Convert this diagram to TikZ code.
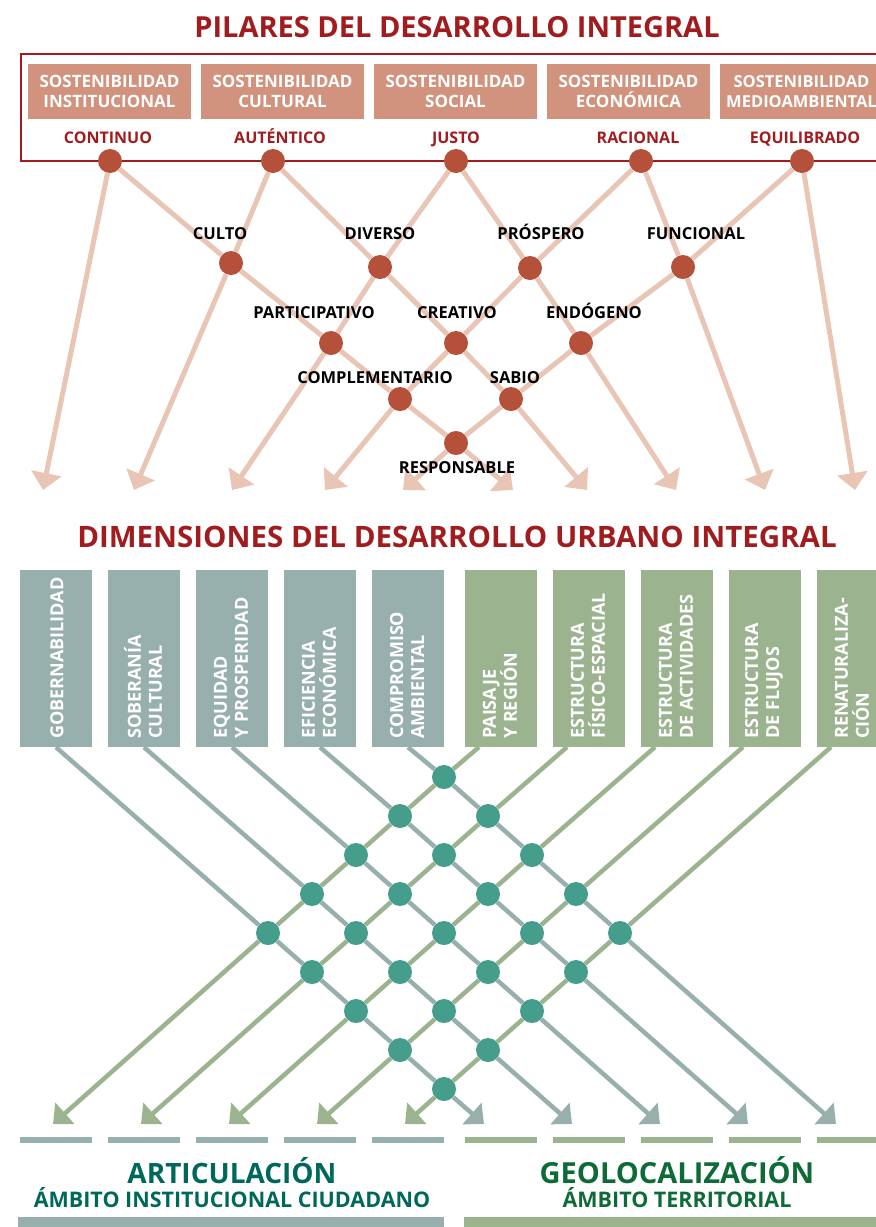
\documentclass[tikz,border=0pt]{standalone}
\usepackage{fontspec}
\setmainfont{Open Sans}
\usepackage{tikz}
\usetikzlibrary{arrows.meta}
\definecolor{pilarred}{HTML}{A01C1E}
\definecolor{salmon}{HTML}{D1937E}
\definecolor{reddot}{HTML}{B5503A}
\definecolor{redline}{HTML}{E8C5B5}
\definecolor{slate}{HTML}{98B0AD}
\definecolor{sage}{HTML}{9CB38F}
\definecolor{tealdot}{HTML}{459E8B}
\definecolor{articol}{HTML}{00685A}
\definecolor{geocol}{HTML}{0E6B38}
\newcommand{\bsize}[2]{\bfseries\fontsize{#1}{#2}\selectfont}
\begin{document}
\begin{tikzpicture}[x=1pt,y=-1pt,
  pillar/.style={fill=salmon, minimum width=163pt, minimum height=55pt, inner sep=0pt, text=white, align=center, font=\bsize{17}{20}},
  virtue/.style={text=pilarred, inner sep=0pt, anchor=base, font=\bsize{16}{18}},
  quality/.style={text=black, inner sep=0pt, anchor=base, font=\bsize{16.5}{18}},
  rdot/.style={circle, fill=reddot, minimum size=24pt, inner sep=0pt},
  tdot/.style={circle, fill=tealdot, minimum size=24pt, inner sep=0pt},
  rlink/.style={draw=redline, line width=5pt, -{Triangle[length=17pt,width=30pt]}},
  slink/.style={draw=slate, line width=4.5pt, -{Triangle[length=16pt,width=28pt]}},
  glink/.style={draw=sage, line width=4.5pt, -{Triangle[length=16pt,width=28pt]}},
  dimbox/.style={minimum width=72pt, minimum height=177pt, inner sep=0pt},
  vlabel/.style={rotate=90, anchor=west, inner sep=0pt, text=white, align=left, font=\bsize{18}{21}},
  footer/.style={inner sep=0pt, anchor=base}]
\useasboundingbox (0,0) rectangle (876,1227);
\node [text=pilarred, font=\bsize{29}{34}] (pilares) at (457,27) {PILARES DEL DESARROLLO INTEGRAL};
\draw [pilarred, line width=2.5pt] (21,54) rectangle (900,161);
\node [pillar] (inst) at (109.5,91.5) {SOSTENIBILIDAD\\INSTITUCIONAL};
\node [pillar] (cult) at (282.5,91.5) {SOSTENIBILIDAD\\CULTURAL};
\node [pillar] (soc) at (455.5,91.5) {SOSTENIBILIDAD\\SOCIAL};
\node [pillar] (econ) at (628.5,91.5) {SOSTENIBILIDAD\\ECONÓMICA};
\node [pillar, font=\bsize{16.5}{20}] (medio) at (801.5,91.5) {SOSTENIBILIDAD\\MEDIOAMBIENTAL};
\node [virtue] (lcont) at (108,143) {CONTINUO};
\node [virtue] (laut) at (280,143) {AUTÉNTICO};
\node [virtue] (ljusto) at (456,143) {JUSTO};
\node [virtue] (lrac) at (638,143) {RACIONAL};
\node [virtue] (lequi) at (805,143) {EQUILIBRADO};
\node [rdot] (cont) at (110,161) {};
\node [rdot] (aut) at (273,161) {};
\node [rdot] (justo) at (456,161) {};
\node [rdot] (rac) at (641,161) {};
\node [rdot] (equi) at (802,161) {};
\node [rdot] (culto) at (231,263) {};
\node [rdot] (div) at (380,267) {};
\node [rdot] (prosp) at (530,268) {};
\node [rdot] (func) at (683,267) {};
\node [rdot] (part) at (331,343) {};
\node [rdot] (crea) at (456,343) {};
\node [rdot] (endo) at (581,343) {};
\node [rdot] (compl) at (400,399) {};
\node [rdot] (sabio) at (511,399) {};
\node [rdot] (resp) at (456,443) {};
\coordinate (t1) at (43,490);
\coordinate (t2) at (134,490);
\coordinate (t3) at (232,490);
\coordinate (t4) at (325,490);
\coordinate (t5) at (403,490);
\coordinate (t6) at (513,490);
\coordinate (t7) at (587,490);
\coordinate (t8) at (676,490);
\coordinate (t9) at (765,490);
\coordinate (t10) at (855,490);
\draw [rlink] (cont) -- (t1);
\draw [rlink] (cont) -- (culto) -- (part) -- (compl) -- (resp) -- (t6);
\draw [rlink] (aut) -- (culto) -- (t2);
\draw [rlink] (aut) -- (div) -- (crea) -- (sabio) -- (t7);
\draw [rlink] (justo) -- (div) -- (part) -- (t3);
\draw [rlink] (justo) -- (prosp) -- (endo) -- (t8);
\draw [rlink] (rac) -- (prosp) -- (crea) -- (compl) -- (t4);
\draw [rlink] (rac) -- (func) -- (t9);
\draw [rlink] (equi) -- (func) -- (endo) -- (sabio) -- (resp) -- (t5);
\draw [rlink] (equi) -- (t10);
\node [quality] (lculto) at (220,239.5) {CULTO};
\node [quality] (ldiv) at (380,239.5) {DIVERSO};
\node [quality] (lprosp) at (541,239.5) {PRÓSPERO};
\node [quality] (lfunc) at (696,239.5) {FUNCIONAL};
\node [quality] (lpart) at (314,318.5) {PARTICIPATIVO};
\node [quality] (lcrea) at (457,318.5) {CREATIVO};
\node [quality] (lendo) at (594,318.5) {ENDÓGENO};
\node [quality] (lcompl) at (375,383) {COMPLEMENTARIO};
\node [quality] (lsabio) at (515,383) {SABIO};
\node [quality] (lresp) at (457,473) {RESPONSABLE};
\node [text=pilarred, font=\bsize{29.5}{34}] (dimensiones) at (457,537) {DIMENSIONES DEL DESARROLLO URBANO INTEGRAL};
\node [dimbox, fill=slate] (gob) at (56,658.5) {};
\node [dimbox, fill=slate] (sob) at (144,658.5) {};
\node [dimbox, fill=slate] (equ) at (232,658.5) {};
\node [dimbox, fill=slate] (efi) at (320,658.5) {};
\node [dimbox, fill=slate] (com) at (408,658.5) {};
\node [dimbox, fill=sage] (pai) at (501,658.5) {};
\node [dimbox, fill=sage] (fis) at (589,658.5) {};
\node [dimbox, fill=sage] (act) at (677,658.5) {};
\node [dimbox, fill=sage] (flu) at (765,658.5) {};
\node [dimbox, fill=sage] (ren) at (853,658.5) {};
\node [vlabel] (lgob) at (57,739) {GOBERNABILIDAD};
\node [vlabel] (lsob) at (143,739) {SOBERANÍA\\CULTURAL};
\node [vlabel] (lequ) at (231,739) {EQUIDAD\\Y PROSPERIDAD};
\node [vlabel] (lefi) at (319,739) {EFICIENCIA\\ECONÓMICA};
\node [vlabel] (lcom) at (407,739) {COMPROMISO\\AMBIENTAL};
\node [vlabel] (lpai) at (500,739) {PAISAJE\\Y REGIÓN};
\node [vlabel] (lfis) at (588,739) {ESTRUCTURA\\FÍSICO-ESPACIAL};
\node [vlabel] (lact) at (676,739) {ESTRUCTURA\\DE ACTIVIDADES};
\node [vlabel] (lflu) at (764,739) {ESTRUCTURA\\DE FLUJOS};
\node [vlabel] (lren) at (852,739) {RENATURALIZA-\\CIÓN};
\coordinate (paitop) at (479,747);
\coordinate (fistop) at (567,747);
\coordinate (acttop) at (655,747);
\coordinate (flutop) at (743,747);
\coordinate (rentop) at (831,747);
\node [tdot] (m00) at (268,933) {};
\node [tdot] (m01) at (312,972) {};
\node [tdot] (m02) at (356,1011) {};
\node [tdot] (m03) at (400,1050) {};
\node [tdot] (m04) at (444,1089) {};
\node [tdot] (m10) at (312,894) {};
\node [tdot] (m11) at (356,933) {};
\node [tdot] (m12) at (400,972) {};
\node [tdot] (m13) at (444,1011) {};
\node [tdot] (m14) at (488,1050) {};
\node [tdot] (m20) at (356,855) {};
\node [tdot] (m21) at (400,894) {};
\node [tdot] (m22) at (444,933) {};
\node [tdot] (m23) at (488,972) {};
\node [tdot] (m24) at (532,1011) {};
\node [tdot] (m30) at (400,816) {};
\node [tdot] (m31) at (444,855) {};
\node [tdot] (m32) at (488,894) {};
\node [tdot] (m33) at (532,933) {};
\node [tdot] (m34) at (576,972) {};
\node [tdot] (m40) at (444,777) {};
\node [tdot] (m41) at (488,816) {};
\node [tdot] (m42) at (532,855) {};
\node [tdot] (m43) at (576,894) {};
\node [tdot] (m44) at (620,933) {};
\coordinate (gobend) at (484,1124);
\coordinate (sobend) at (572,1124);
\coordinate (equend) at (660,1124);
\coordinate (efiend) at (748,1124);
\coordinate (comend) at (836,1124);
\coordinate (paiend) at (53,1124);
\coordinate (fisend) at (141,1124);
\coordinate (actend) at (229,1124);
\coordinate (fluend) at (317,1124);
\coordinate (renend) at (405,1124);
\draw [slink] (gob.south) -- (m00) -- (m01) -- (m02) -- (m03) -- (m04) -- (gobend);
\draw [slink] (sob.south) -- (m10) -- (m11) -- (m12) -- (m13) -- (m14) -- (sobend);
\draw [slink] (equ.south) -- (m20) -- (m21) -- (m22) -- (m23) -- (m24) -- (equend);
\draw [slink] (efi.south) -- (m30) -- (m31) -- (m32) -- (m33) -- (m34) -- (efiend);
\draw [slink] (com.south) -- (m40) -- (m41) -- (m42) -- (m43) -- (m44) -- (comend);
\draw [glink] (paitop) -- (m40) -- (m30) -- (m20) -- (m10) -- (m00) -- (paiend);
\draw [glink] (fistop) -- (m41) -- (m31) -- (m21) -- (m11) -- (m01) -- (fisend);
\draw [glink] (acttop) -- (m42) -- (m32) -- (m22) -- (m12) -- (m02) -- (actend);
\draw [glink] (flutop) -- (m43) -- (m33) -- (m23) -- (m13) -- (m03) -- (fluend);
\draw [glink] (rentop) -- (m44) -- (m34) -- (m24) -- (m14) -- (m04) -- (renend);
\fill [slate] (20,1137) rectangle (92,1143);
\fill [slate] (108,1137) rectangle (180,1143);
\fill [slate] (196,1137) rectangle (268,1143);
\fill [slate] (284,1137) rectangle (356,1143);
\fill [slate] (372,1137) rectangle (444,1143);
\fill [sage] (465,1137) rectangle (537,1143);
\fill [sage] (553,1137) rectangle (625,1143);
\fill [sage] (641,1137) rectangle (713,1143);
\fill [sage] (729,1137) rectangle (801,1143);
\fill [sage] (817,1137) rectangle (889,1143);
\node [footer, text=articol, font=\bsize{28}{32}] (artic) at (232,1183) {ARTICULACIÓN};
\node [footer, text=articol, font=\bsize{21.5}{24}] (artamb) at (232,1207) {ÁMBITO INSTITUCIONAL CIUDADANO};
\node [footer, text=geocol, font=\bsize{29}{32}] (geoloc) at (677,1183) {GEOLOCALIZACIÓN};
\node [footer, text=geocol, font=\bsize{21.5}{24}] (geoamb) at (677,1207) {ÁMBITO TERRITORIAL};
\fill [slate] (18,1217) rectangle (444,1227);
\fill [sage] (464,1217) rectangle (880,1227);
\end{tikzpicture}
\end{document}
